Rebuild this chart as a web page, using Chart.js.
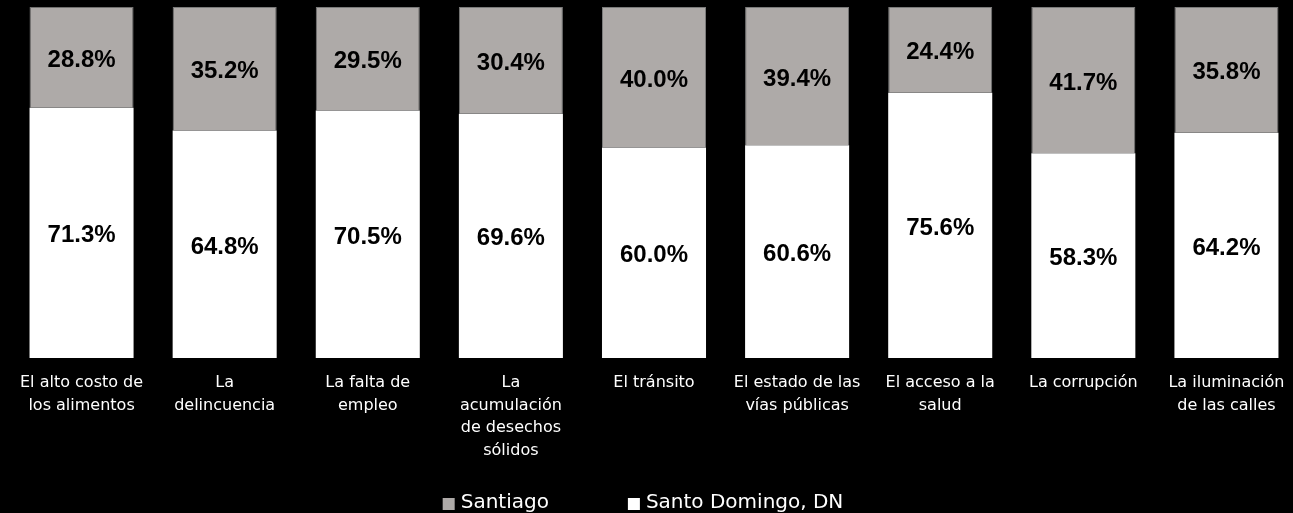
<!DOCTYPE html>
<html>
<head>
<meta charset="utf-8">
<script src="https://cdn.jsdelivr.net/npm/chart.js@4"></script>
<style>
  html, body { margin: 0; padding: 0; background: #000; overflow: hidden; }
  #wrap { width: 1300px; height: 513px; }
</style>
</head>
<body>
<div id="wrap"><canvas id="chart"></canvas></div>
<script>
// Categories (multi-line labels as in the original)
const categories = [
    ['El alto costo de', 'los alimentos'],
    ['La', 'delincuencia'],
    ['La falta de', 'empleo'],
    ['La', 'acumulación', 'de desechos', 'sólidos'],
    'El tránsito',
    ['El estado de las', 'vías públicas'],
    ['El acceso a la', 'salud'],
    'La corrupción',
    ['La iluminación', 'de las calles']
];

// Series values (percent)
const santoDomingo = [71.3, 64.8, 70.5, 69.6, 60.0, 60.6, 75.6, 58.3, 64.2];
const santiago = [28.8, 35.2, 29.5, 30.4, 40.0, 39.4, 24.4, 41.7, 35.8];

const seriesNames = ['Santo Domingo, DN', 'Santiago'];

const labelFont = "'DejaVu Sans', sans-serif";
const valueFont = "'Liberation Sans', Arial, sans-serif";

// Value labels in the middle of each segment
const segmentLabels = {
    id: 'segmentLabels',
    afterDatasetsDraw(chart) {
        const ctx = chart.ctx;
        ctx.save();
        ctx.fillStyle = '#000';
        ctx.font = 'bold 24px ' + valueFont;
        ctx.textAlign = 'center';
        ctx.textBaseline = 'middle';
        chart.data.datasets.forEach((ds, i) => {
            const meta = chart.getDatasetMeta(i);
            meta.data.forEach((bar, j) => {
                const p = bar.getProps(['x', 'y', 'base'], true);
                const y = (p.y + p.base) / 2 + 3;
                ctx.fillText(ds.data[j].toFixed(1) + '%', p.x, y);
            });
        });
        ctx.restore();
    }
};

// Legend drawn by hand so the wide gap between the two items fits
const bottomLegend = {
    id: 'bottomLegend',
    afterDraw(chart) {
        const ctx = chart.ctx;
        const items = chart.data.datasets.slice().reverse();
        const box = 12, gap = 6, between = 79;
        ctx.save();
        ctx.font = '20px ' + labelFont;
        ctx.textBaseline = 'middle';
        ctx.textAlign = 'left';
        const widths = items.map(ds => box + gap + ctx.measureText(ds.label).width);
        const total = widths.reduce((a, b) => a + b, 0) + between * (items.length - 1);
        let x = 643 - total / 2;
        const y = 503;
        items.forEach((ds, i) => {
            ctx.fillStyle = ds.backgroundColor;
            ctx.fillRect(x, y - box / 2 + 1, box, box);
            ctx.fillStyle = '#fff';
            ctx.fillText(ds.label, x + box + gap, y);
            x += widths[i] + between;
        });
        ctx.restore();
    }
};

const chart = new Chart(document.getElementById('chart'), {
    type: 'bar',
    data: {
        labels: categories,
        datasets: [
            {
                label: seriesNames[0],
                data: santoDomingo,
                backgroundColor: '#ffffff',
                borderWidth: 0
            },
            {
                label: seriesNames[1],
                data: santiago,
                backgroundColor: '#aeaaa8',
                borderColor: '#7a7a7a',
                borderWidth: 1
            }
        ]
    },
    options: {
        responsive: true,
        maintainAspectRatio: false,
        animation: false,
        layout: { padding: { left: 10, right: 2, top: 7, bottom: 20 } },
        datasets: {
            bar: { categoryPercentage: 1.0, barPercentage: 0.727 }
        },
        scales: {
            x: {
                stacked: true,
                grid: { display: false, drawTicks: false },
                border: { display: false },
                ticks: {
                    color: '#fff',
                    font: { family: labelFont, size: 16, lineHeight: 1.4 },
                    maxRotation: 0,
                    autoSkip: false,
                    padding: 14
                },
                afterFit(scale) { scale.height = 135; }
            },
            y: {
                stacked: true,
                display: false,
                min: 0,
                max: 100
            }
        },
        plugins: {
            legend: { display: false },
            tooltip: { enabled: false }
        }
    },
    plugins: [segmentLabels, bottomLegend]
});
</script>
</body>
</html>
